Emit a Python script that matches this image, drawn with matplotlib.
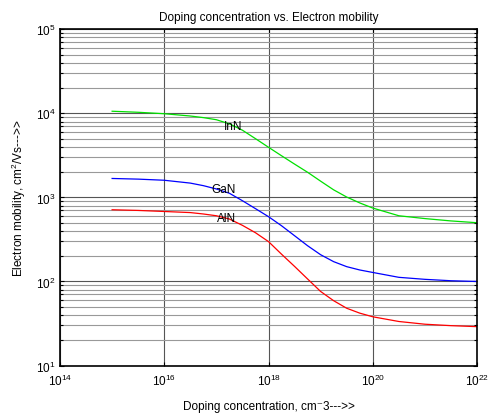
import numpy as np
import matplotlib
matplotlib.use("Agg")
import matplotlib.pyplot as plt
from matplotlib.ticker import LogLocator, NullFormatter, FixedLocator

plt.rcParams['font.family'] = ['Liberation Sans', 'DejaVu Sans']
plt.rcParams['mathtext.fontset'] = 'custom'
plt.rcParams['mathtext.rm'] = 'Liberation Sans'
plt.rcParams['mathtext.it'] = 'Liberation Sans'

# Data (log10 of doping concentration)
log_doping = [15, 15.5, 16, 16.5, 16.75, 17, 17.25, 17.5, 17.75, 18, 18.25, 18.5,
              18.75, 19, 19.25, 19.5, 19.75, 20, 20.5, 21, 21.5, 22]
mu_InN = [10600, 10300, 9900, 9300, 8900, 8400, 7500, 6300, 5000, 3950, 3130, 2490,
          1990, 1560, 1230, 1010, 860, 747, 605, 560, 525, 500]
mu_GaN = [1680, 1650, 1600, 1480, 1380, 1260, 1120, 913, 735, 590, 460, 350,
          266, 208, 172, 150, 137, 128, 112, 106, 102, 100]
mu_AlN = [713, 700, 680, 660, 635, 605, 553, 465, 380, 298, 211, 151,
          107, 76, 59, 48, 42, 38, 33.4, 31, 29.8, 29]

series_names = ["InN", "GaN", "AlN"]
series_colors = ["#00e000", "#0000ff", "#ff0000"]
label_pos = [(10**17.32, 7070), (10**17.13, 1260), (10**17.2, 568)]

x_ticks = [1e14, 1e16, 1e18, 1e20, 1e22]
x_ticklabels = ["$10^{14}$", "$10^{16}$", "$10^{18}$", "$10^{20}$", "$10^{22}$"]
y_ticks = [1e1, 1e2, 1e3, 1e4, 1e5]
y_ticklabels = ["$10^{1}$", "$10^{2}$", "$10^{3}$", "$10^{4}$", "$10^{5}$"]

fig = plt.figure(figsize=(4.89, 4.14), dpi=100)
ax = fig.add_axes([0.1227, 0.1147, 0.8528, 0.8121])

doping = [10**v for v in log_doping]
for vals, name, col, pos in zip([mu_InN, mu_GaN, mu_AlN], series_names, series_colors, label_pos):
    ax.plot(doping, vals, color=col, lw=0.9)
    ax.text(pos[0], pos[1], name, fontsize=8.5, ha='center', va='center')

ax.set_xscale('log')
ax.set_yscale('log')
ax.set_xlim(1e14, 1e22)
ax.set_ylim(1e1, 1e5)

ax.xaxis.set_major_locator(FixedLocator(x_ticks))
ax.set_xticklabels(x_ticklabels)
ax.xaxis.set_minor_locator(FixedLocator([]))
ax.yaxis.set_major_locator(FixedLocator(y_ticks))
ax.set_yticklabels(y_ticklabels)
ax.yaxis.set_minor_locator(LogLocator(base=10, subs=np.arange(2, 10), numticks=20))
ax.yaxis.set_minor_formatter(NullFormatter())

ax.tick_params(which='both', direction='in', top=True, right=True, labelsize=8.5)
ax.tick_params(which='major', length=3, width=0.8)
ax.tick_params(which='minor', length=2, width=0.8)
ax.tick_params(axis='x', which='major', pad=5)
ax.tick_params(axis='y', which='major', pad=3)

ax.grid(True, which='major', axis='both', color='#555555', lw=0.8, ls='-')
ax.grid(True, which='minor', axis='y', color='#999999', lw=0.8, ls='-')
ax.set_axisbelow(True)

for s in ax.spines.values():
    s.set_linewidth(1.2)

ax.set_title("Doping concentration vs. Electron mobility", fontsize=8.5, pad=7)
ax.set_xlabel("Doping concentration, cm\u207b3--->>", fontsize=8.5, labelpad=9)
ax.set_ylabel("Electron mobility, cm$^2$/Vs--->>", fontsize=8.5, labelpad=6)

fig.savefig("out.png", dpi=100)
